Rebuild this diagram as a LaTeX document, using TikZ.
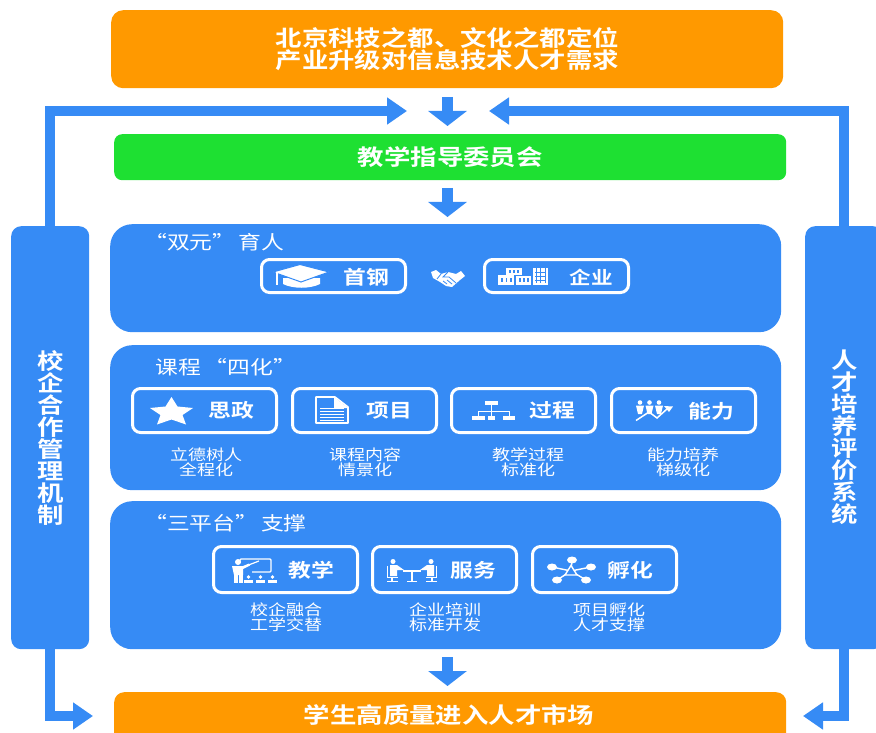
\documentclass[tikz,border=0pt]{standalone}
\usepackage{fontspec}
\usetikzlibrary{arrows.meta}
\setmainfont{Noto Sans CJK SC}[FakeStretch=1.2,BoldFont={Noto Sans CJK SC Bold},BoldFeatures={FakeStretch=1.2}]
\definecolor{cblue}{HTML}{368BF5}
\definecolor{corange}{HTML}{FF9900}
\definecolor{cgreen}{HTML}{1EE032}
\newcommand{\fs}[1]{\fontsize{#1}{#1}\selectfont}
\tikzset{
  x=1pt,y=-1pt,
  panel/.style={fill=cblue,draw=none,rounded corners=22pt,minimum width=671pt,inner sep=0pt,anchor=north west},
  banner/.style={fill=corange,draw=none,text=white,font=\fs{22}\bfseries,align=center,inner sep=0pt,minimum width=672pt,rounded corners=12pt,anchor=north west},
  sidebar/.style={fill=cblue,draw=none,text=white,font=\fs{22}\bfseries,align=center,inner sep=0pt,minimum width=78pt,minimum height=423pt,rounded corners=10pt,anchor=north west},
  tagbox/.style={draw=white,line width=3pt,fill=cblue,rounded corners=8pt,minimum width=144pt,inner sep=0pt,anchor=north west},
  tagtext/.style={text=white,font=\fs{19}\bfseries,inner sep=0pt},
  sectitle/.style={text=white,font=\fs{19},inner sep=0pt,anchor=west},
  sublabel/.style={text=white,font=\fs{15},align=center,inner sep=0pt},
  fatdown/.style={draw=cblue,line width=11.5pt,-{Triangle[width=38pt,length=15pt]}},
  fatside/.style={draw=cblue,line width=9.5pt,-{Triangle[width=26pt,length=20pt]}},
  ico/.style={fill=white,draw=none},
  icol/.style={draw=white,line width=1.4pt,fill=none},
}
\begin{document}
\begin{tikzpicture}
\useasboundingbox (0,0) rectangle (876,733);
\clip (0,0) rectangle (876,733);
% banners
\node[banner,minimum height=78pt] (top) at (111,10) {\baselineskip=25pt 北京科技之都、文化之都定位\\产业升级对信息技术人才需求};
\node[banner,fill=cgreen,minimum height=46pt,rounded corners=8pt] (guide) at (114,134) {教学指导委员会};
\node[banner,minimum height=60pt,rounded corners=10pt] (market) at (114,692) {};
\node[text=white,font=\fs{22}\bfseries,inner sep=0pt] (markettext) at (449,715) {学生高质量进入人才市场};
% panels
\node[panel,minimum height=108pt] (p1) at (110,224) {};
\node[panel,minimum height=145pt] (p2) at (110,345) {};
\node[panel,minimum height=148pt] (p3) at (110,501) {};
\node[sidebar] (lbar) at (11,226) {\baselineskip=22pt 校\\企\\合\\作\\管\\理\\机\\制};
\node[sidebar] (rbar) at (805,226) {\baselineskip=22pt 人\\才\\培\\养\\评\\价\\系\\统};
% section titles
\node[sectitle] (t1) at (144,242) {“双元”\hspace{3pt}育人};
\node[sectitle] (t2) at (155,367) {课程\hspace{4pt}“四化”};
\node[sectitle] (t3) at (144,523) {“三平台”\hspace{3pt}支撑};
% connectors
\coordinate (c1a) at (447.5,97); \coordinate (c1b) at (447.5,126);
\coordinate (c2a) at (447.5,188); \coordinate (c2b) at (447.5,217);
\coordinate (c3a) at (447.5,657); \coordinate (c3b) at (447.5,686);
\draw[fatdown] (c1a) -- (c1b);
\draw[fatdown] (c2a) -- (c2b);
\draw[fatdown] (c3a) -- (c3b);
\coordinate (lup) at (50,111); \coordinate (lin) at (407,111);
\coordinate (rup) at (844,111); \coordinate (rin) at (489,111);
\coordinate (ldn) at (50,716); \coordinate (lout) at (93,716);
\coordinate (rdn) at (844,716); \coordinate (rout) at (803,716);
\draw[fatside] (lbar.north -| lup) -- (lup) -- (lin);
\draw[fatside] (rbar.north -| rup) -- (rup) -- (rin);
\draw[fatside] (lbar.south -| ldn) -- (ldn) -- (lout);
\draw[fatside] (rbar.south -| rdn) -- (rdn) -- (rout);
% boxes row 1
\node[tagbox,minimum height=33pt] (b1) at (260,258) {};
\node[tagbox,minimum height=33pt] (b2) at (483,258) {};
\node[tagtext] at (366,277) {首钢};
\node[tagtext,font=\fs{18}\bfseries] at (591,277) {企业};
% row 2
\foreach \n/\xx in {b3/131,b4/291,b5/450,b6/610}
  \node[tagbox,minimum height=44pt] (\n) at (\xx,387) {};
\node[tagtext] at (231,410) {思政};
\node[tagtext] at (389,411) {项目};
\node[tagtext] at (552,410) {过程};
\node[tagtext] at (711,411) {能力};
\node[sublabel] at (206,462) {\baselineskip=15pt 立德树人\\全程化};
\node[sublabel] at (365,462) {\baselineskip=15pt 课程内容\\情景化};
\node[sublabel] at (528,462) {\baselineskip=15pt 教学过程\\标准化};
\node[sublabel] at (683,462) {\baselineskip=15pt 能力培养\\梯级化};
% row 3
\foreach \n/\xx in {b7/212,b8/371,b9/531}
  \node[tagbox,minimum height=46pt] (\n) at (\xx,545) {};
\node[tagtext] at (311,570) {教学};
\node[tagtext] at (473,570) {服务};
\node[tagtext] at (630,570) {孵化};
\node[sublabel] at (286,617) {\baselineskip=15pt 校企融合\\工学交替};
\node[sublabel] at (445,617) {\baselineskip=15pt 企业培训\\标准开发};
\node[sublabel] at (609,617) {\baselineskip=15pt 项目孵化\\人才支撑};
% --- icons ---
% cap
\fill[ico] (283,278) -- (320,278) -- (320,284) .. controls (310,289) and (293,289) .. (283,284) -- cycle;
\filldraw[fill=white,draw=cblue,line width=1pt] (273,272) -- (300,264.5) -- (329,272) -- (301,282) -- cycle;
\fill[ico] (276,272) rectangle (278,285);
% handshake
\fill[ico] (431,272) -- (436,270) -- (441,274) -- (448,272) -- (456,274) -- (461,271) -- (465,276) -- (460,280) -- (452,287) -- (446,286) -- (440,282) -- (433,278) -- cycle;
\draw[cblue,line width=0.8pt] (441,274) -- (437,279) (448,272) -- (443,277) -- (449,277) -- (456,283) (447,280) -- (452,284) (443,281) -- (447,284);
% buildings
\fill[ico] (506,268) rectangle (522,275);
\fill[ico] (498,275) rectangle (514,285);
\fill[ico] (516,276) rectangle (531,285);
\fill[ico] (533,268) rectangle (548,285);
\foreach \a in {501,505.5,510,519,523,527}{\fill[cblue] (\a,278) rectangle +(1.6,4);}
\foreach \a in {509,513,517}{\fill[cblue] (\a,270) rectangle +(1.6,3);}
\fill[cblue] (535.5,268) rectangle (536.8,283);
\fill[cblue] (540,268) rectangle (541.3,283);
\fill[cblue] (544.5,268) rectangle (545.8,283);
\fill[cblue] (535,272) rectangle (546,273);
\fill[cblue] (535,276) rectangle (546,277);
\fill[cblue] (535,280) rectangle (546,281);
% star
\fill[ico] (171.5,397) -- (177.5,406.5) -- (193,408) -- (182.5,415) -- (186,424.5) -- (171.5,419.5) -- (157,424.5) -- (160.5,415) -- (150,408) -- (165.5,406.5) -- cycle;
% document
\draw[icol,line width=1.6pt,line join=round] (316,397) -- (335,397) -- (348,407) -- (348,423) -- (316,423) -- cycle;
\fill[ico] (334,397) -- (348,408) -- (334,408) -- cycle;
\foreach \yy in {408,411,414,417,420}{\fill[ico] (320,\yy) rectangle (344,\yy+1.4);}
% org chart
\fill[ico] (485,401) rectangle (498,405);
\fill[ico] (472,416) rectangle (485,420);
\fill[ico] (488,416) rectangle (495,420);
\fill[ico] (503,416) rectangle (515,420);
\draw[icol,line width=1pt] (491.5,405) -- (491.5,416) (478,416) -- (478,411) -- (509,411) -- (509,416);
% people + trend
\foreach \a in {640,649.5,659}{\fill[ico] (\a,402.5) circle (2.3); \fill[ico] (\a-4,405.5) -- (\a+4,405.5) -- (\a+2,414) -- (\a-2,414) -- cycle;}
\draw[icol,line width=1.5pt] (636,420.5) -- (649,412) -- (657,418) -- (667,409);
\fill[ico] (673,406.5) -- (664,406) -- (669,412) -- cycle;
% teacher
\fill[ico] (238,562) circle (3);
\fill[ico] (232,566) -- (243,566) -- (249,563.5) -- (250,565.5) -- (243,569) -- (243,575) -- (234,575) -- cycle;
\fill[ico] (234,575) rectangle (238,583);
\fill[ico] (239,575) rectangle (243,583);
\draw[icol,rounded corners=1pt] (240,563) -- (240,559) -- (271,559) -- (271,572) -- (252,572);
\draw[icol,line width=1.2pt] (246,566) -- (259,561);
\foreach \a in {248.5,260.5,272.5}{\fill[ico] (\a,577) circle (1.9); \fill[ico] (\a-4.5,579.5) rectangle (\a+4.5,582.5);}
% meeting
\fill[ico] (393,561.5) circle (2.5); \fill[ico] (431,561.5) circle (2.5);
\fill[ico] (390,565) -- (397,565) -- (404,570) -- (397,570) -- (397,576) -- (390,576) -- cycle;
\fill[ico] (434,565) -- (427,565) -- (420,570) -- (427,570) -- (427,576) -- (434,576) -- cycle;
\draw[icol,line width=1.3pt] (387.5,566) -- (387.5,577.5) -- (398,577.5) (392,577.5) -- (392,581.5) (387,581.5) -- (398,581.5);
\draw[icol,line width=1.3pt] (436.5,566) -- (436.5,577.5) -- (426,577.5) (432,577.5) -- (432,581.5) (426,581.5) -- (437,581.5);
\draw[icol,line width=1.5pt] (403,571) -- (421,571) (412,571) -- (412,581) (407,581.5) -- (417,581.5);
% network
\coordinate (nc) at (571,571);
\foreach \px/\py in {572/560,552/567,591/567,557/580,586/580}{
  \draw[icol] (nc) -- (\px,\py);
  \fill[ico] (\px,\py) ellipse (5 and 3.5);
}
\draw[draw=white,fill=cblue,line width=1.4pt] (571,565.5) -- (577,575) -- (565,575) -- cycle;
\end{tikzpicture}
\end{document}
